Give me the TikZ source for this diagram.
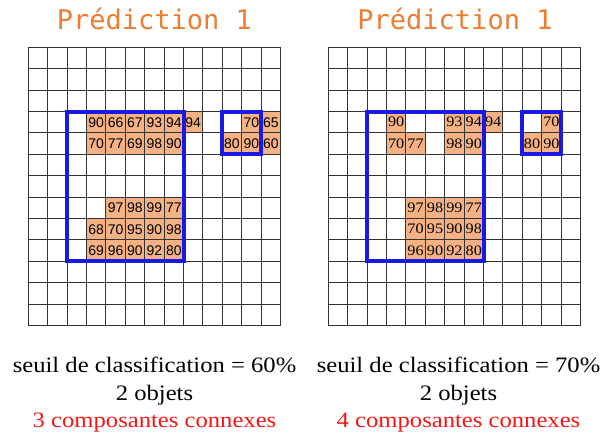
\documentclass[tikz,border=0pt]{standalone}
\usepackage{fontspec}
\setmainfont{Liberation Serif}
\newfontfamily\titlefont{DejaVu Sans Mono}
\newfontfamily\sanscell{Liberation Sans}
\newfontfamily\serifwide[FakeStretch=1.12]{Liberation Serif}
\usetikzlibrary{positioning}

\definecolor{titleorange}{RGB}{236,125,49}
\definecolor{cellorange}{RGB}{244,177,131}
\definecolor{boxblue}{RGB}{25,25,230}
\definecolor{errred}{RGB}{250,20,20}

\begin{document}
\begin{tikzpicture}[
    x=1pt, y=-1pt,
    title/.style={font=\titlefont\fontsize{27}{27}\selectfont, text=titleorange, anchor=base},
    cellgrid/.style={draw=black!80, line width=1pt},
    cell/.style={rectangle, draw=black!80, line width=1pt, fill=cellorange, minimum width=19.4pt, minimum height=21.4pt, inner sep=0pt},
    objbox/.style={draw=boxblue, line width=4pt},
    caption/.style={font=\serifwide\fontsize{22}{22}\selectfont, anchor=base},
    errcaption/.style={caption, text=errred}
]
\useasboundingbox (0,0) rectangle (603,434);

% Titles
\node[title] (titleL) at (154.3,29.3) {Prédiction 1};
\node[title] (titleR) at (455,29.3) {Prédiction 1};

% Left grid: threshold 60%
\begin{scope}[shift={(28.3pt,-47.3pt)}, x=19.4pt, y=-21.4pt]
  \foreach \i in {0,...,13} {
    \draw[cellgrid] (\i,0) -- (\i,13);
    \draw[cellgrid] (0,\i) -- (13,\i);
  }
  \foreach \col/\row/\val in {3/3/90,4/3/66,5/3/67,6/3/93,7/3/94,8/3/94,11/3/70,12/3/65,
      3/4/70,4/4/77,5/4/69,6/4/98,7/4/90,10/4/80,11/4/90,12/4/60,
      4/7/97,5/7/98,6/7/99,7/7/77,
      3/8/68,4/8/70,5/8/95,6/8/90,7/8/98,
      3/9/69,4/9/96,5/9/90,6/9/92,7/9/80} {
    \node[cell, font=\sanscell\fontsize{14}{14}\selectfont] (L-\col-\row) at (\col+0.5,\row+0.5) {\val};
  }
  % Objects
  \draw[objbox] (2,3) rectangle (8,10);
  \draw[objbox] (10,3) rectangle (12,5);
\end{scope}

% Right grid: threshold 70%
\begin{scope}[shift={(328.3pt,-47.3pt)}, x=19.4pt, y=-21.4pt]
  \foreach \i in {0,...,13} {
    \draw[cellgrid] (\i,0) -- (\i,13);
    \draw[cellgrid] (0,\i) -- (13,\i);
  }
  \foreach \col/\row/\val in {3/3/90,6/3/93,7/3/94,8/3/94,11/3/70,
      3/4/70,4/4/77,6/4/98,7/4/90,10/4/80,11/4/90,
      4/7/97,5/7/98,6/7/99,7/7/77,
      4/8/70,5/8/95,6/8/90,7/8/98,
      4/9/96,5/9/90,6/9/92,7/9/80} {
    \node[cell, font=\serifwide\fontsize{14.5}{14.5}\selectfont] (R-\col-\row) at (\col+0.5,\row+0.5) {\val};
  }
  % Objects
  \draw[objbox] (2,3) rectangle (8,10);
  \draw[objbox] (10,3) rectangle (12,5);
\end{scope}

% Captions
\node[caption] (seuilL) at (154.5,372.3) {seuil de classification = 60\%};
\node[caption] (objetsL) at (154.5,400) {2 objets};
\node[errcaption] (composL) at (154.5,427.7) {3 composantes connexes};
\node[caption] (seuilR) at (458.5,372.3) {seuil de classification = 70\%};
\node[caption] (objetsR) at (458.5,400) {2 objets};
\node[errcaption] (composR) at (458.5,427.7) {4 composantes connexes};

\end{tikzpicture}
\end{document}
